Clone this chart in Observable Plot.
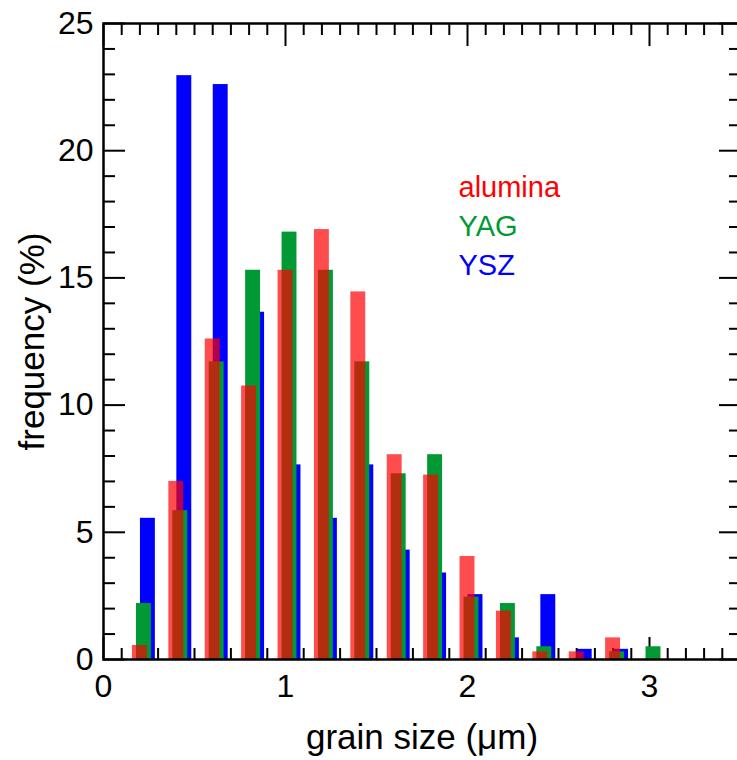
<!DOCTYPE html>
<html>
<head>
<meta charset="utf-8">
<script src="https://cdn.jsdelivr.net/npm/d3@7"></script>
<script src="https://cdn.jsdelivr.net/npm/@observablehq/plot@0.6"></script>
<style>
  html, body { margin: 0; padding: 0; background: #fff; overflow: hidden; }
</style>
</head>
<body>
<div id="chart"></div>
<script>
// ---- data ----
const bins = [0.2, 0.4, 0.6, 0.8, 1.0, 1.2, 1.4, 1.6, 1.8, 2.0, 2.2, 2.4, 2.6, 2.8, 3.0];
const alumina = [0.55, 7.0, 12.6, 10.75, 15.3, 16.9, 14.45, 8.05, 7.25, 4.05, 1.9, 0.3, 0.3, 0.85, 0];
const yag     = [2.2, 5.85, 11.7, 15.3, 16.8, 15.3, 11.7, 7.3, 8.05, 2.45, 2.2, 0.5, 0, 0.3, 0.5];
const ysz     = [5.55, 22.95, 22.6, 13.65, 7.65, 5.55, 7.65, 4.3, 3.4, 2.55, 0.85, 2.55, 0.4, 0.4, 0];

const seriesNames  = ["alumina", "YAG", "YSZ"];
const seriesColors = ["#ff0000", "#009933", "#0000ff"];

const xMajorTicks = [0, 1, 2, 3];
const xMinorTicks = d3.range(1, 35).filter(i => i % 10 !== 0).map(i => i / 10);
const yMajorTicks = [0, 5, 10, 15, 20, 25];
const yMinorTicks = d3.range(1, 25).filter(i => i % 5 !== 0);

const xLabel = "grain size (\u03bcm)";
const yLabel = "frequency (%)";

// ---- layout ----
const FONT = "'Liberation Sans', Arial, Helvetica, sans-serif";
const barW = 0.041;      // half bar width in x units
const shift = 0.022;     // offset between series in a bin

function rows(values, k) {
  return bins.map((b, i) => ({bin: b, v: values[i], k})).filter(d => d.v > 0);
}
function bars(values, k, opts = {}) {
  return Plot.rect(rows(values, k), {
    x1: d => d.bin + d.k * shift - barW,
    x2: d => d.bin + d.k * shift + barW,
    y1: 0,
    y2: d => d.v,
    ...opts
  });
}

function tickMarks(axis, anchor, ticks, size) {
  const f = axis === "x" ? Plot.axisX : Plot.axisY;
  return f({anchor, ticks, tickSize: -size, strokeWidth: 2, fill: "none", label: null, tickFormat: () => ""});
}

const chart = Plot.plot({
  width: 737,
  height: 760,
  marginLeft: 103,
  marginRight: -3,
  marginTop: 23,
  marginBottom: 101,
  style: {fontFamily: FONT, fontSize: "32px", color: "black", background: "white"},
  x: {domain: [0, 3.5]},
  y: {domain: [0, 25]},
  marks: [
    // inward ticks on all four sides
    tickMarks("x", "bottom", xMinorTicks, 11),
    tickMarks("x", "bottom", xMajorTicks, 22),
    tickMarks("x", "top", xMinorTicks, 11),
    tickMarks("x", "top", xMajorTicks, 22),
    tickMarks("y", "left", yMinorTicks, 12),
    tickMarks("y", "left", yMajorTicks, 22),
    tickMarks("y", "right", yMinorTicks, 12),
    tickMarks("y", "right", yMajorTicks, 22),
    // bars: YSZ behind, YAG, then translucent alumina
    bars(ysz, 2, {fill: seriesColors[2]}),
    bars(yag, 1, {fill: seriesColors[1]}),
    bars(alumina, 0, {fill: seriesColors[0], fillOpacity: 0.7}),
    Plot.frame({stroke: "black", strokeWidth: 2.5}),
    // tick labels
    Plot.axisX({ticks: xMajorTicks, tickFormat: d3.format("d"), tickSize: 0, tickPadding: 15, fontSize: 32, label: null}),
    Plot.axisY({ticks: yMajorTicks, tickFormat: d3.format("d"), tickSize: 0, tickPadding: 10, fontSize: 32, label: null}),
    // axis titles
    Plot.text([yLabel], {text: d => d, frameAnchor: "left", rotate: -90, dx: -71, fontSize: 35,
      textAnchor: "middle", lineAnchor: "middle"}),
    Plot.text([xLabel], {text: d => d, frameAnchor: "bottom", dy: 78, fontSize: 35,
      textAnchor: "middle", lineAnchor: "middle"}),
    // legend
    ...seriesNames.map((name, i) =>
      Plot.text([name], {text: d => d, frameAnchor: "top-left", dx: 355, dy: 164 + i * 39,
        fill: seriesColors[i], fontSize: 29, textAnchor: "start", lineAnchor: "middle"}))
  ]
});
document.getElementById("chart").append(chart);
</script>
</body>
</html>
